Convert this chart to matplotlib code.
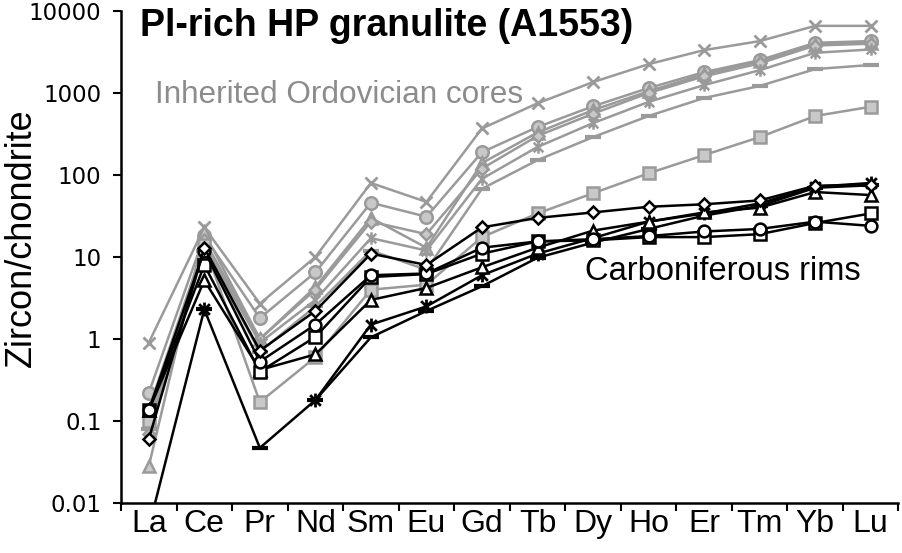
import numpy as np
import matplotlib
matplotlib.use("Agg")
import matplotlib.pyplot as plt
from matplotlib.path import Path
from matplotlib.ticker import FixedLocator, NullFormatter, FixedFormatter

elements = ["La", "Ce", "Pr", "Nd", "Sm", "Eu", "Gd", "Tb", "Dy", "Ho", "Er", "Tm", "Yb", "Lu"]
ytick_vals = [0.01, 0.1, 1, 10, 100, 1000, 10000]
ytick_labels = ["0.01", "0.1", "1", "10", "100", "1000", "10000"]

# Inherited Ordovician cores (grey)
core_x = [0.9, 23, 2.7, 10, 80, 47, 370, 750, 1360, 2250, 3340, 4300, 6600, 6600]
core_circle = [0.22, 18, 1.8, 6.5, 46, 31, 190, 385, 690, 1150, 1800, 2520, 4100, 4300]
core_triangle = [0.028, 20, 1.0, 4.3, 30, 13, 140, 330, 620, 1050, 1700, 2450, 3900, 4100]
core_diamond = [0.07, 16, 1.0, 4.0, 27, 19, 120, 300, 560, 1000, 1600, 2300, 3800, 4000]
core_star = [0.14, 14, 0.9, 3.0, 17, 12, 90, 220, 430, 780, 1250, 1900, 3100, 3400]
core_dash = [0.08, 12, 0.7, 2.5, 12, 7, 68, 152, 290, 525, 870, 1220, 1960, 2200]
core_square = [0.1, 14, 0.17, 0.6, 4.0, 4.6, 17.5, 34, 60, 105, 175, 290, 525, 680]

# Carboniferous rims (black)
rim_diamond = [0.06, 13, 0.72, 2.2, 11, 8, 23, 30, 35, 41, 44, 49, 74, 76]
rim_circle = [0.135, 12, 0.53, 1.5, 6.0, 6.3, 13, 15.5, 16.5, 18, 20.5, 22, 27, 24]
rim_square = [0.135, 8, 0.4, 1.06, 5.7, 6.2, 11, 15.5, 16, 17.5, 17.5, 19, 26, 34]
rim_triangle = [0.135, 5.2, 0.42, 0.65, 3.0, 4.2, 7.5, 13, 21, 27, 35, 40, 62, 57]
rim_star = [np.nan, 2.3, np.nan, 0.18, 1.5, 2.5, 6.0, 11, 17, 27, 34, 45, 72, 80]
rim_dash = [0.005, 2.3, 0.047, 0.18, 1.05, 2.2, 4.4, 9.8, 15, 22, 32, 42, 70, 75]

# Excel-like asterisk marker: X plus vertical bar
star_path = Path(
    [(-1, -1), (1, 1), (-1, 1), (1, -1), (0, -1.3), (0, 1.3)],
    [Path.MOVETO, Path.LINETO, Path.MOVETO, Path.LINETO, Path.MOVETO, Path.LINETO],
)

fig = plt.figure(figsize=(9.03, 5.53), dpi=100)
ax = fig.add_axes([0.134, 0.0904, 0.861, 0.8896])
x = np.arange(len(elements))

grey_line = "#9a9a9a"
grey_fill = "#c8c8c8"

grey_series = [
    (core_x, "x", 9, 2.0, grey_line),
    (core_circle, "o", 9, 1.8, grey_fill),
    (core_triangle, "^", 8, 1.8, grey_fill),
    (core_diamond, "D", 6.5, 1.8, grey_fill),
    (core_star, star_path, 9, 1.8, grey_line),
    (core_dash, "_", 11, 3.0, grey_line),
    (core_square, "s", 8, 1.8, grey_fill),
]
for vals, mk, ms, mew, fc in grey_series:
    ax.plot(x, vals, color=grey_line, lw=1.8, marker=mk, ms=ms,
            mfc=fc, mec=grey_line, mew=mew, zorder=2, clip_on=True)

black_series = [
    (rim_dash, "_", 11, 3.0, "black"),
    (rim_star, star_path, 10, 2.0, "black"),
    (rim_triangle, "^", 8, 1.8, "white"),
    (rim_square, "s", 8, 1.8, "white"),
    (rim_circle, "o", 8.5, 1.8, "white"),
    (rim_diamond, "D", 6.5, 1.8, "white"),
]
for vals, mk, ms, mew, fc in black_series:
    ax.plot(x, vals, color="black", lw=1.8, marker=mk, ms=ms,
            mfc=fc, mec="black", mew=mew, zorder=3, clip_on=True)

ax.set_yscale("log")
ax.set_ylim(0.01, 10000)
ax.set_xlim(-0.5, len(elements) - 0.5)

ax.yaxis.set_major_locator(FixedLocator(ytick_vals))
ax.yaxis.set_major_formatter(FixedFormatter(ytick_labels))
ax.yaxis.set_minor_locator(FixedLocator([]))
ax.tick_params(axis="y", which="major", direction="out", length=6, width=1.5,
               labelsize=16.5, pad=8)

ax.xaxis.set_major_locator(FixedLocator(np.arange(-0.5, len(elements) + 0.5, 1)))
ax.xaxis.set_major_formatter(NullFormatter())
ax.xaxis.set_minor_locator(FixedLocator(x))
ax.xaxis.set_minor_formatter(FixedFormatter(elements))
ax.tick_params(axis="x", which="major", direction="out", length=6, width=1.5)
ax.tick_params(axis="x", which="minor", length=0, labelsize=23, pad=4)

for s in ["top", "right"]:
    ax.spines[s].set_visible(False)
for s in ["left", "bottom"]:
    ax.spines[s].set_linewidth(1.8)

for lab in ax.get_yticklabels():
    lab.set_fontfamily("DejaVu Sans")
for lab in ax.get_xticklabels(minor=True):
    lab.set_fontfamily("Liberation Sans")

fig.text(21 / 903, 1 - 238 / 553, "Zircon/chondrite", fontsize=26, rotation=90,
         family="Liberation Sans", ha="center", va="center")

fig.text(140 / 903, 1 - 26 / 553, "Pl-rich HP granulite (A1553)", fontsize=27,
         fontweight="bold", family="Liberation Sans", ha="left", va="center")
fig.text(155 / 903, 1 - 95 / 553, "Inherited Ordovician cores", fontsize=22.7,
         color="#8c8c8c", family="Liberation Sans", ha="left", va="center")
fig.text(585 / 903, 1 - 272 / 553, "Carboniferous rims", fontsize=23.5, color="black",
         family="Liberation Sans", ha="left", va="center")

fig.savefig("out.png", dpi=100)
